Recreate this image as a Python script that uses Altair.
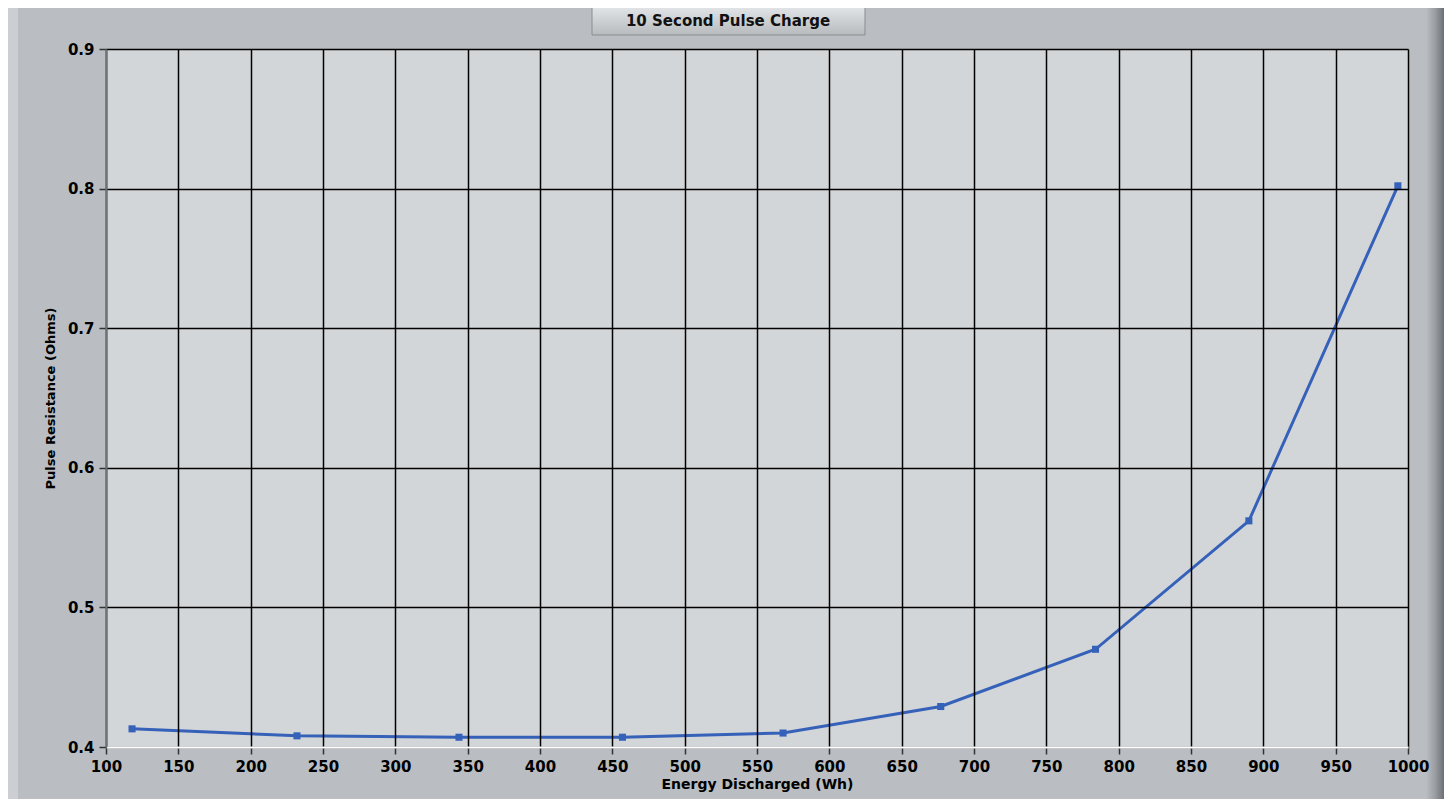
import altair as alt
import pandas as pd

# Data
energy_wh = [118, 232, 344, 457, 568, 677, 784, 890, 993]
resistance_ohms = [0.413, 0.408, 0.407, 0.407, 0.410, 0.429, 0.470, 0.562, 0.802]
x_ticks = list(range(100, 1001, 50))
y_ticks = [0.4, 0.5, 0.6, 0.7, 0.8, 0.9]
chart_title = "10 Second Pulse Charge"

df = pd.DataFrame({"energy": energy_wh, "resistance": resistance_ohms})
tdf = pd.DataFrame({"t": [chart_title]})

W, H = 1302, 698
LINE = "#3561b9"
FONT = "DejaVu Sans"

x_enc = alt.X(
    "energy:Q",
    scale=alt.Scale(domain=[100, 1000], nice=False, zero=False),
    axis=alt.Axis(
        values=x_ticks, title="Energy Discharged (Wh)", format="d",
        grid=True, gridColor="#000000", gridWidth=1.5, gridOpacity=1,
        domainColor="#ffffff", domainWidth=2,
        tickColor="#333333", tickSize=7, tickWidth=1.5,
        labelFont=FONT, labelFontSize=15, labelFontWeight="bold", labelColor="#000000",
        labelPadding=5, labelFlush=False, labelOverlap=False,
        titleFont=FONT, titleFontSize=14, titleFontWeight="bold", titleColor="#000000",
        titlePadding=3, zindex=1,
    ),
)
y_enc = alt.Y(
    "resistance:Q",
    scale=alt.Scale(domain=[0.4, 0.9], nice=False, zero=False),
    axis=alt.Axis(
        values=y_ticks, title="Pulse Resistance (Ohms)", format=".1f",
        grid=True, gridColor="#000000", gridWidth=1.5, gridOpacity=1,
        domainColor="#6e7276", domainWidth=2,
        tickColor="#333333", tickSize=7, tickWidth=1.5,
        labelFont=FONT, labelFontSize=15, labelFontWeight="bold", labelColor="#000000",
        labelPadding=5, labelFlush=False,
        titleFont=FONT, titleFontSize=13, titleFontWeight="bold", titleColor="#000000",
        titlePadding=10, zindex=1,
    ),
)

line = alt.Chart(df).mark_line(
    color=LINE, strokeWidth=3,
    point=alt.OverlayMarkDef(shape="square", size=50, filled=True, color=LINE, opacity=1),
).encode(x=x_enc, y=y_enc)

# decorative frame pieces (LabVIEW style panel)
left_strip = alt.Chart(tdf).mark_rect(color="#cbcfd3", opacity=1).encode(
    x=alt.value(-98), x2=alt.value(-88), y=alt.value(-41), y2=alt.value(750)
)
right_strip = alt.Chart(tdf).mark_rect(
    color=alt.LinearGradient(
        gradient="linear", x1=0, x2=1, y1=0, y2=0,
        stops=[alt.GradientStop(offset=0, color="#babec2"),
               alt.GradientStop(offset=0.5, color="#9a9ea2"),
               alt.GradientStop(offset=1, color="#6c7074")],
    ),
    opacity=1,
).encode(x=alt.value(1320), x2=alt.value(1338), y=alt.value(-41), y2=alt.value(750))

button = alt.Chart(tdf).mark_rect(
    color=alt.LinearGradient(
        gradient="linear", x1=0, x2=0, y1=0, y2=1,
        stops=[alt.GradientStop(offset=0, color="#e2e4e6"),
               alt.GradientStop(offset=1, color="#b8bbbe")],
    ),
    stroke="#8a8d90", strokeWidth=1, opacity=1,
).encode(x=alt.value(486), x2=alt.value(759), y=alt.value(-42), y2=alt.value(-14))

title_text = alt.Chart(tdf).mark_text(
    font=FONT, fontSize=15, fontWeight="bold", color="#111111",
    align="center", baseline="middle",
).encode(x=alt.value(622), y=alt.value(-28), text="t:N")

chart = alt.layer(left_strip, right_strip, button, title_text, line).properties(
    width=W, height=H,
    autosize=alt.AutoSizeParams(type="none"),
    padding={"left": 98, "top": 41, "right": 36, "bottom": 52},
    background="#babec2",
).configure_view(fill="#d3d6d9", stroke=None)

chart.save("out.html", embed_options={"renderer": "svg", "actions": False})
